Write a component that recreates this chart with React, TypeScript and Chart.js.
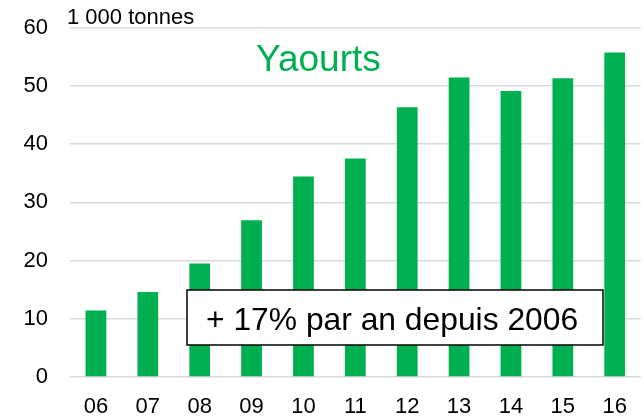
import React, { useEffect, useRef } from "react";
import { Chart, registerables } from "chart.js";

Chart.register(...registerables);

const categories = ["06", "07", "08", "09", "10", "11", "12", "13", "14", "15", "16"];
const yaourts = [11.4, 14.6, 19.5, 26.9, 34.4, 37.5, 46.3, 51.4, 49.1, 51.3, 55.7];
const unitLabel = "1 000 tonnes";
const titleText = "Yaourts";
const noteText = "+ 17% par an depuis 2006";

const FONT = "'Liberation Sans', Arial, Helvetica, sans-serif";
const GREEN = "#00B050";

const overlayPlugin = {
  id: "overlay",
  afterDraw(chart: any) {
    const ctx = chart.ctx as CanvasRenderingContext2D;
    ctx.save();
    // unit label
    ctx.fillStyle = "#000";
    ctx.font = `22px ${FONT}`;
    ctx.textAlign = "left";
    ctx.textBaseline = "alphabetic";
    ctx.fillText(unitLabel, 67, 24);
    // title
    ctx.fillStyle = GREEN;
    ctx.font = `37px ${FONT}`;
    ctx.textAlign = "left";
    ctx.fillText(titleText, 256, 71);
    // note box
    const bx = 187, by = 290, bw = 416, bh = 55;
    ctx.fillStyle = "#fff";
    ctx.fillRect(bx, by, bw, bh);
    ctx.strokeStyle = "#000";
    ctx.lineWidth = 1.5;
    ctx.strokeRect(bx, by, bw, bh);
    ctx.fillStyle = "#000";
    ctx.font = `31.8px ${FONT}`;
    ctx.textAlign = "left";
    ctx.textBaseline = "alphabetic";
    ctx.fillText(noteText, 206, 330);
    ctx.restore();
  },
};

export default function App() {
  const ref = useRef<HTMLCanvasElement | null>(null);
  useEffect(() => {
    document.body.style.margin = "0";
    const canvas = ref.current;
    if (!canvas) return;
    const chart = new Chart(canvas, {
      type: "bar",
      data: {
        labels: categories,
        datasets: [
          {
            data: yaourts,
            backgroundColor: GREEN,
            borderWidth: 0,
            categoryPercentage: 1,
            barPercentage: 0.4,
          },
        ],
      },
      options: {
        animation: false,
        responsive: false,
        maintainAspectRatio: false,
        layout: { padding: { top: 27.5, right: 1, left: 0, bottom: 0 } },
        plugins: {
          legend: { display: false },
          tooltip: { enabled: false },
          title: { display: false },
        },
        scales: {
          x: {
            grid: { display: false, drawTicks: false },
            border: { display: false },
            ticks: {
              color: "#000",
              font: { family: FONT, size: 22 },
              padding: 17,
              maxRotation: 0,
              autoSkip: false,
            },
            afterFit: (s: any) => {
              s.height = 41;
            },
          },
          y: {
            min: 0,
            max: 60,
            grid: { color: "#D9D9D9", lineWidth: 1.5, drawTicks: false },
            border: { display: false },
            ticks: {
              stepSize: 10,
              color: "#000",
              font: { family: FONT, size: 22 },
              padding: 22,
            },
            afterFit: (s: any) => {
              s.width = 70;
              s.paddingTop = 0;
              s.paddingBottom = 0;
            },
          },
        },
      },
      plugins: [overlayPlugin],
    });
    return () => chart.destroy();
  }, []);
  return (
    <div style={{ position: "absolute", left: 0, top: 0, width: 644, height: 418 }}>
      <canvas ref={ref} width={644} height={418} style={{ width: 644, height: 418 }} />
    </div>
  );
}
